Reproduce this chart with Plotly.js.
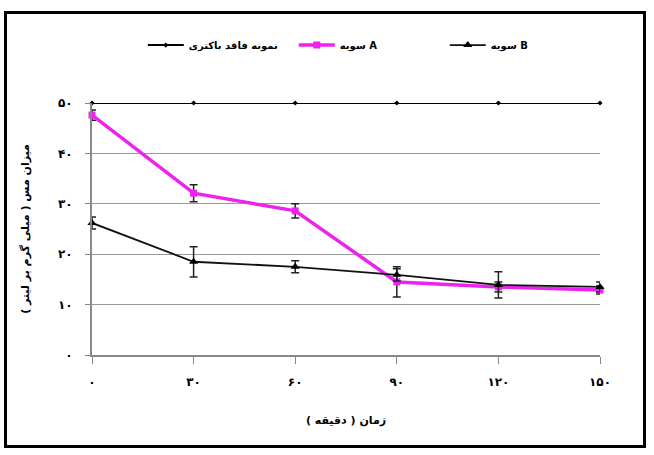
<!DOCTYPE html>
<html><head><meta charset="utf-8">
<script src="https://cdn.plot.ly/plotly-3.0.1.min.js"></script>
<style>
html,body{margin:0;padding:0;background:#fff;}
#frame{position:absolute;left:4px;top:11px;width:642px;height:437px;border:3px solid #000;box-sizing:border-box;pointer-events:none;}
#chart{position:absolute;left:0;top:0;width:654px;height:455px;}
</style></head>
<body>
<div id="chart"></div>
<div id="frame"></div>
<script>
const times = [0, 30, 60, 90, 120, 150];
const tickText = ['۰', '۳۰', '۶۰', '۹۰', '۱۲۰', '۱۵۰'];
const yTickVals = [0, 10, 20, 30, 40, 50];
const yTickText = ['۰', '۱۰', '۲۰', '۳۰', '۴۰', '۵۰'];
const controlName = 'نمونه فاقد باکتری';
const controlVals = [50, 50, 50, 50, 50, 50];
const aName = 'سویه A';
const aVals = [47.6, 32.1, 28.6, 14.5, 13.5, 12.9];
const aErr = [1.0, 1.7, 1.4, 3.0, 1.0, 0.8];
const bName = 'سویه B';
const bVals = [26.2, 18.5, 17.5, 15.9, 13.9, 13.5];
const bErr = [1.2, 3.0, 1.2, 1.2, 2.6, 1.0];

const font = "DejaVu Sans, sans-serif";
const traces = [
  {x: times, y: controlVals, name: controlName, mode: 'lines+markers', cliponaxis: false,
   line: {color: '#000', width: 2}, marker: {symbol: 'diamond', size: 4, color: '#000'}},
  {x: times, y: aVals, name: aName, mode: 'lines+markers', cliponaxis: false,
   line: {color: '#ee22ee', width: 3.5}, marker: {symbol: 'square', size: 7, color: '#ee22ee'},
   error_y: {type: 'data', array: aErr, visible: true, color: '#222', thickness: 1.5, width: 4}},
  {x: times, y: bVals, name: bName, mode: 'lines+markers', cliponaxis: false,
   line: {color: '#111', width: 1.8}, marker: {symbol: 'triangle-up', size: 8, color: '#000'},
   error_y: {type: 'data', array: bErr, visible: true, color: '#222', thickness: 1.5, width: 4}}
];
const layout = {
  width: 654, height: 455,
  margin: {l: 92, r: 54, t: 103, b: 100},
  paper_bgcolor: '#fff', plot_bgcolor: '#fff',
  font: {family: font, size: 11, color: '#000'},
  showlegend: true,
  legend: {orientation: 'h', x: 0.1, xanchor: 'left', y: 1.23, yanchor: 'middle',
           font: {family: font, size: 10, color: '#000', weight: 'bold'},
           itemwidth: 36, entrywidth: 100, entrywidthmode: 'pixels', tracegroupgap: 0},
  xaxis: {range: [0, 150], tickvals: times, ticktext: tickText, showgrid: false, zeroline: false,
          showline: true, linecolor: '#888', linewidth: 2, ticks: 'outside', ticklen: 7, tickcolor: '#888',
          ticklabelstandoff: 8,
          tickfont: {family: font, size: 12, color: '#000', weight: 'bold'},
          title: {text: 'زمان ( دقیقه )', font: {family: font, size: 11, color: '#000', weight: 'bold'}, standoff: 28}},
  yaxis: {range: [0, 50], tickvals: yTickVals, ticktext: yTickText, showgrid: true, gridcolor: '#999', gridwidth: 1.2,
          zeroline: false, showline: true, linecolor: '#888', linewidth: 2, ticks: 'outside', ticklen: 5, tickcolor: '#888',
          ticklabelstandoff: 10,
          tickfont: {family: font, size: 12, color: '#000', weight: 'bold'},
          title: {text: 'میزان مس ( میلی گرم بر لیتر )', font: {family: font, size: 11, color: '#000', weight: 'bold'}, standoff: 26}}
};
Plotly.newPlot('chart', traces, layout, {displayModeBar: false, staticPlot: true});
</script>
</body></html>
